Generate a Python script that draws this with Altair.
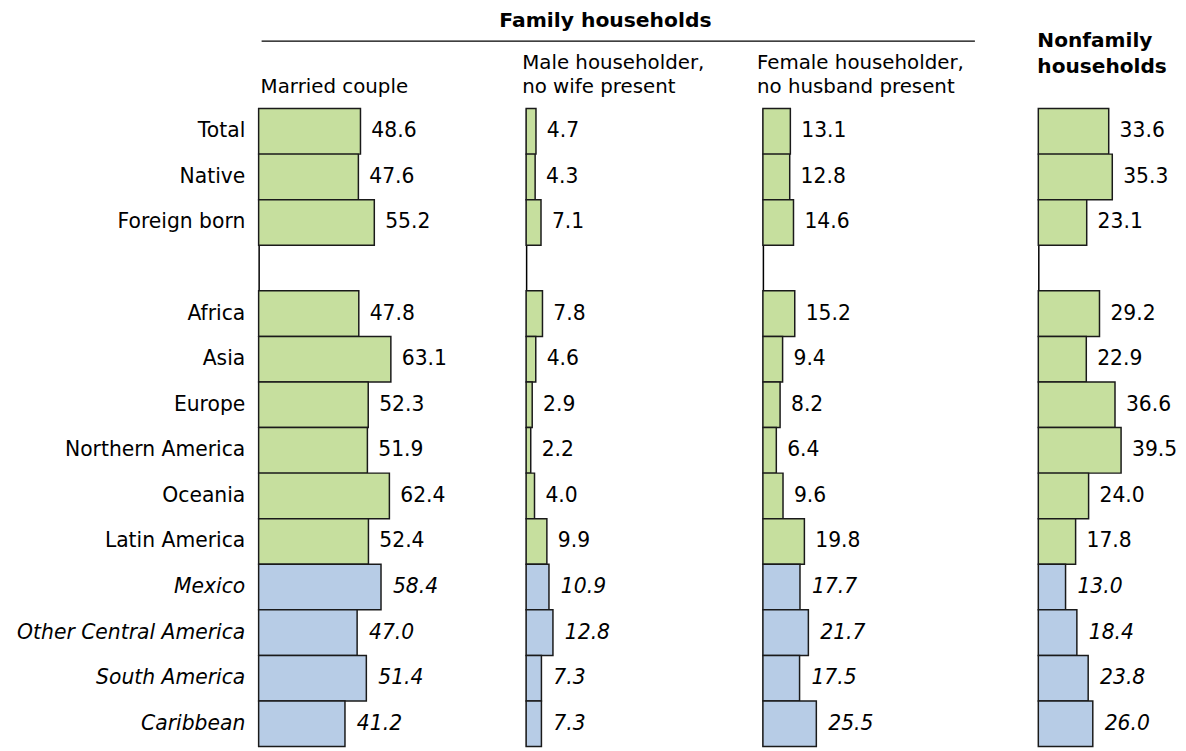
import altair as alt
import pandas as pd

categories = ["Total", "Native", "Foreign born", " ", "Africa", "Asia", "Europe",
              "Northern America", "Oceania", "Latin America", "Mexico",
              "Other Central America", "South America", "Caribbean"]
married = [48.6, 47.6, 55.2, None, 47.8, 63.1, 52.3, 51.9, 62.4, 52.4, 58.4, 47.0, 51.4, 41.2]
male = [4.7, 4.3, 7.1, None, 7.8, 4.6, 2.9, 2.2, 4.0, 9.9, 10.9, 12.8, 7.3, 7.3]
female = [13.1, 12.8, 14.6, None, 15.2, 9.4, 8.2, 6.4, 9.6, 19.8, 17.7, 21.7, 17.5, 25.5]
nonfamily = [33.6, 35.3, 23.1, None, 29.2, 22.9, 36.6, 39.5, 24.0, 17.8, 13.0, 18.4, 23.8, 26.0]
groups = ["main"] * 10 + ["latin"] * 4
latin_sub = ["Mexico", "Other Central America", "South America", "Caribbean"]

family_title = "Family households"
married_head = ["Married couple"]
male_head = ["Male householder,", "no wife present"]
female_head = ["Female householder,", "no husband present"]
nonfam_head = ["Nonfamily", "households"]

df = pd.DataFrame({"category": categories, "married": married, "male": male,
                   "female": female, "nonfamily": nonfamily, "group": groups})
df = df[df["category"] != " "].reset_index(drop=True)

FONT = "DejaVu Sans"
FS = 20.5      # category labels and values
FSH = 20       # panel headers
GREEN = "#c6df9e"
BLUE = "#b7cce6"
PXU = 2.115          # pixels per percentage point
ROW = 46
H = ROW * len(categories)

one = alt.InlineData(values=[{}])


def header(text, x, y, bold=False, size=FSH, align="left"):
    return alt.Chart(one).mark_text(
        text=text, align=align, baseline="middle", font=FONT, fontSize=size,
        fontWeight="bold" if bold else "normal", color="black"
    ).encode(x=alt.value(x), y=alt.value(y))


def panel(col, width, first, heads):
    xscale = alt.Scale(domain=[0, width / PXU], nice=False, zero=True)
    if first:
        yaxis = alt.Axis(title=None, ticks=False, labelPadding=14, labelFont=FONT,
                         labelFontSize=FS, labelColor="black", domainColor="black",
                         domainWidth=1.5, minExtent=251, maxExtent=251, labelLimit=400,
                         labelFontStyle={"condition": {"test": "indexof(" + str(latin_sub) + ", datum.value) >= 0",
                                                       "value": "italic"}, "value": "normal"})
    else:
        yaxis = alt.Axis(title=None, ticks=False, labels=False, domainColor="black",
                         domainWidth=1.5, minExtent=0, maxExtent=0)
    base = alt.Chart(df).encode(
        y=alt.Y("category:N", sort=categories,
                scale=alt.Scale(domain=categories, paddingInner=0, paddingOuter=0),
                axis=yaxis),
        x=alt.X(f"{col}:Q", scale=xscale, axis=None),
    )
    bars = base.mark_bar(stroke="#1a1a1a", strokeWidth=1.5).encode(
        color=alt.Color("group:N", scale=alt.Scale(domain=["main", "latin"], range=[GREEN, BLUE]),
                        legend=None)
    )
    t_main = base.transform_filter("datum.group == 'main'").mark_text(
        align="left", baseline="middle", dx=11, font=FONT, fontSize=FS, color="black"
    ).encode(text=alt.Text(f"{col}:Q", format=".1f"))
    t_lat = base.transform_filter("datum.group == 'latin'").mark_text(
        align="left", baseline="middle", dx=12, font=FONT, fontSize=FS, color="black",
        fontStyle="italic"
    ).encode(text=alt.Text(f"{col}:Q", format=".1f"))
    return alt.layer(bars, t_main, t_lat, *heads).properties(width=width, height=H)


p1 = panel("married", 270, True, [
    header(married_head[0], 2, -22),
    header(family_title, 350, -88, bold=True, size=20.5, align="center"),
    alt.Chart(one).mark_rule(color="black", strokeWidth=1.2).encode(
        x=alt.value(3), x2=alt.value(723), y=alt.value(-68)),
])
p2 = panel("male", 239, False, [header(male_head[0], -4, -46), header(male_head[1], -4, -22)])
p3 = panel("female", 278, False, [header(female_head[0], -6, -46), header(female_head[1], -6, -22)])
p4 = panel("nonfamily", 130, False, [header(nonfam_head[0], -1, -68, True, 20.3),
                                     header(nonfam_head[1], -1, -42, True, 20.3)])

chart = alt.hconcat(p1, p2, p3, p4, spacing=0, bounds="flush").properties(
    padding={"left": 2, "top": 0, "right": 0, "bottom": 0}
).configure_view(stroke=None)

chart.save("out.html", embed_options={"renderer": "svg", "actions": False})
